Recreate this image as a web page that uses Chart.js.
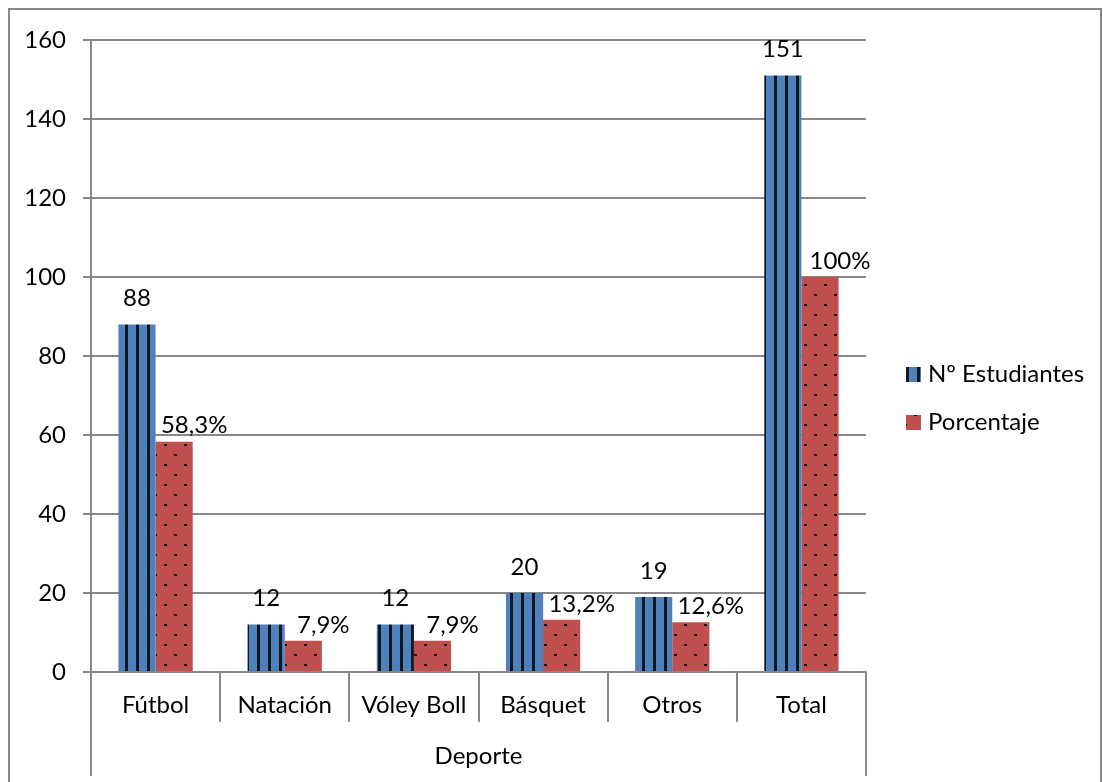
<!DOCTYPE html>
<html>
<head>
<meta charset="utf-8">
<script src="https://cdn.jsdelivr.net/npm/chart.js@4.4.1/dist/chart.umd.min.js"></script>
<style>
  html, body { margin: 0; padding: 0; background: #fff; }
  canvas { display: block; }
</style>
</head>
<body>
<canvas id="chart" width="1103" height="782"></canvas>
<script>
const categories = ["Fútbol", "Natación", "Vóley Boll", "Básquet", "Otros", "Total"];
const estudiantes = [88, 12, 12, 20, 19, 151];
const porcentaje = [58.3, 7.9, 7.9, 13.2, 12.6, 100];
const porcentajeLabels = ["58,3%", "7,9%", "7,9%", "13,2%", "12,6%", "100%"];
const seriesNames = ["Nº Estudiantes", "Porcentaje"];
const yMax = 160;
const yStep = 20;

const FONT = "Lato, 'Open Sans', sans-serif";
const FS = 24;
const GRID = "#888888";

function stripes() {
    var c = document.createElement("canvas");
    c.width = 11; c.height = 4;
    var g = c.getContext("2d");
    g.fillStyle = "#4F81BD";
    g.fillRect(0, 0, 11, 4);
    g.fillStyle = "#101923";
    g.fillRect(4, 0, 3, 4);
    return g.createPattern(c, "repeat");
}

function dots() {
    var c = document.createElement("canvas");
    c.width = 20; c.height = 20;
    var g = c.getContext("2d");
    g.fillStyle = "#C0504D";
    g.fillRect(0, 0, 20, 20);
    g.fillStyle = "#111";
    g.fillRect(4, 4, 3, 2);
    g.fillRect(14, 14, 3, 2);
    return g.createPattern(c, "repeat");
}

// value labels above the bars
const valueLabels = {
    id: "valueLabels",
    afterDatasetsDraw(chart) {
        var ctx = chart.ctx;
        ctx.save();
        ctx.font = FS + "px " + FONT;
        ctx.fillStyle = "#000";
        ctx.textAlign = "center";
        ctx.textBaseline = "middle";
        chart.getDatasetMeta(0).data.forEach(function (bar, i) {
            ctx.fillText(String(estudiantes[i]), bar.x, bar.y - 26);
        });
        chart.getDatasetMeta(1).data.forEach(function (bar, i) {
            ctx.fillText(porcentajeLabels[i], bar.x + 20, bar.y - 16);
        });
        ctx.restore();
    }
};

// frame, long category lines and legend
const decor = {
    id: "decor",
    afterDraw(chart) {
        var ctx = chart.ctx;
        var a = chart.chartArea;
        ctx.save();
        ctx.strokeStyle = GRID;
        ctx.lineWidth = 2;
        ctx.beginPath();
        ctx.moveTo(9, 782); ctx.lineTo(9, 9); ctx.lineTo(1101, 9); ctx.lineTo(1101, 782);
        ctx.moveTo(a.left, a.bottom + 48); ctx.lineTo(a.left, 776);
        ctx.moveTo(a.right, a.bottom + 48); ctx.lineTo(a.right, 776);
        ctx.stroke();

        var fills = [stripes(), dots()];
        var x = a.right + 40;
        var ys = [374, 422];
        ctx.font = FS + "px " + FONT;
        ctx.textBaseline = "middle";
        ctx.textAlign = "left";
        for (var i = 0; i < seriesNames.length; i++) {
            ctx.fillStyle = fills[i];
            ctx.fillRect(x, ys[i] - 7, 15, 15);
            ctx.fillStyle = "#000";
            ctx.fillText(seriesNames[i], x + 22, ys[i]);
        }
        ctx.restore();
    }
};

function draw() {
    var ctx = document.getElementById("chart").getContext("2d");
    new Chart(ctx, {
        type: "bar",
        data: {
            labels: categories,
            datasets: [{
                label: seriesNames[0],
                data: estudiantes,
                backgroundColor: stripes(),
                borderWidth: 0
            }, {
                label: seriesNames[1],
                data: porcentaje,
                backgroundColor: dots(),
                borderWidth: 0
            }]
        },
        options: {
            responsive: false,
            animation: false,
            layout: { padding: { left: 0, right: 237, top: 40, bottom: 0 } },
            datasets: { bar: { categoryPercentage: 0.575, barPercentage: 1 } },
            plugins: { legend: { display: false }, tooltip: { enabled: false } },
            scales: {
                x: {
                    afterFit: function (s) { s.height = 110; },
                    grid: { display: true, offset: true, drawOnChartArea: false, tickLength: 50, color: GRID, lineWidth: 2 },
                    border: { display: true, color: GRID, width: 2 },
                    ticks: { autoSkip: false, maxRotation: 0, padding: -31, color: "#000", font: { family: FONT, size: FS } },
                    title: { display: true, text: "Deporte", color: "#000", font: { family: FONT, size: FS }, padding: { top: 0, bottom: 11 } }
                },
                y: {
                    min: 0,
                    max: yMax,
                    afterFit: function (s) { s.width = 91; },
                    grid: { color: GRID, lineWidth: 2, tickLength: 8 },
                    border: { display: true, color: GRID, width: 2 },
                    ticks: { stepSize: yStep, padding: 17, color: "#000", font: { family: FONT, size: FS } }
                }
            }
        },
        plugins: [valueLabels, decor]
    });
}

document.fonts.load(FS + "px Lato").then(draw, draw);
</script>
</body>
</html>
